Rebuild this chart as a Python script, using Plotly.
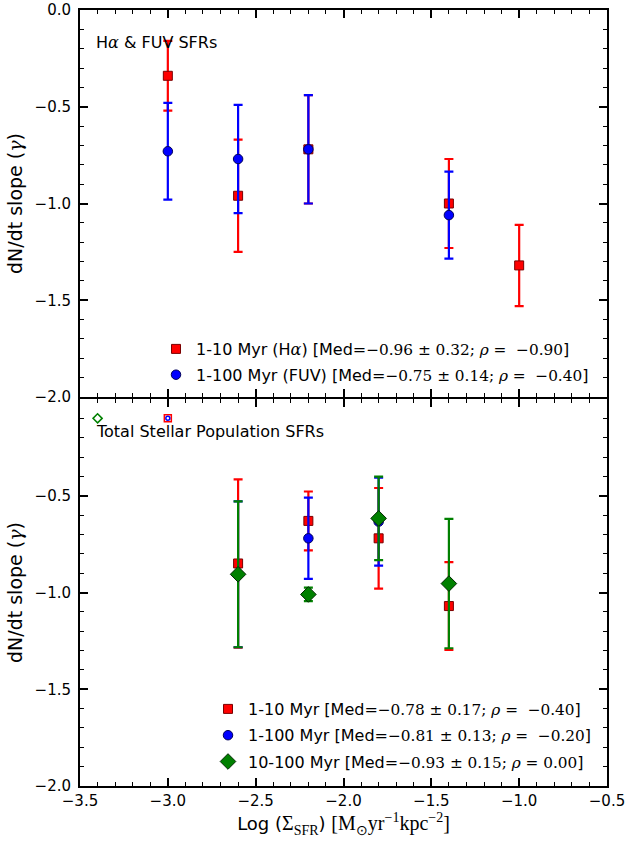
import plotly.graph_objects as go

# ---- Upper panel: H-alpha & FUV based SFRs ----
top_x_ha = [-3.0, -2.6, -2.2, -1.4, -1.0]
top_y_ha = [-0.34, -0.96, -0.72, -1.00, -1.32]
top_e_ha = [0.18, 0.29, 0.28, 0.23, 0.21]

top_x_fuv = [-3.0, -2.6, -2.2, -1.4]
top_y_fuv = [-0.73, -0.77, -0.72, -1.06]
top_e_fuv = [0.25, 0.28, 0.28, 0.225]

# ---- Lower panel: total stellar population SFRs ----
bot_x_10 = [-2.6, -2.2, -1.8, -1.4]
bot_y_10 = [-0.85, -0.63, -0.72, -1.07]
bot_e_10 = [0.435, 0.152, 0.26, 0.227]

bot_x_100 = [-2.6, -2.2, -1.8]
bot_y_100 = [-0.906, -0.72, -0.634]
bot_e_100 = [0.377, 0.21, 0.227]

bot_x_10_100 = [-2.6, -2.2, -1.8, -1.4]
bot_y_10_100 = [-0.906, -1.01, -0.617, -0.954]
bot_e_10_100 = [0.377, 0.035, 0.216, 0.334]

# open reference markers near the top of the lower panel
open_x_green = [-3.4]
open_x_redblue = [-3.0]
open_y = [-0.1]

# summary statistics shown in the legends
top_labels = ["1-10 Myr (H<span style='font-family:DejaVu Serif'><i>α</i></span>)",
              "1-100 Myr (FUV)"]
top_med = [-0.96, -0.75]
top_med_err = [0.32, 0.14]
top_rho = [-0.90, -0.40]

bot_labels = ["1-10 Myr", "1-100 Myr", "10-100 Myr"]
bot_med = [-0.78, -0.81, -0.93]
bot_med_err = [0.17, 0.13, 0.15]
bot_rho = [-0.40, -0.20, 0.00]

x_ticks = [-3.5, -3.0, -2.5, -2.0, -1.5, -1.0, -0.5]
y_ticks = [-2.0, -1.5, -1.0, -0.5, 0.0]

RED, BLUE, GREEN = "#ff0000", "#0000ff", "#008000"
SERIF = "DejaVu Serif"
SANS = "DejaVu Sans"

W, H = 626, 842
ML, MR, MT, MB = 80, 19, 10, 56
PW, PH = W - ML - MR, H - MT - MB


def num(v):
    s = f"{abs(v):.2f}"
    return ("−" + s) if v < 0 else s


def label(name, med, err, rho):
    rho_txt = f"= {num(rho)}" if rho >= 0 else f"=  {num(rho)}"
    math = (f"<span style='font-family:{SERIF};font-size:15.3px'>"
            f"{num(med)} ± {err:.2f}; <i>ρ</i> {rho_txt}</span>")
    return f"{name} [Med={math}]"


def minus(v):
    s = f"{abs(v):.1f}"
    return ("−" + s) if v < 0 else s


fig = go.Figure()


def add_series(x, y, e, color, symbol, size, edge, name, xa, ya, legend, grp):
    fig.add_trace(go.Scatter(
        x=x, y=y, mode="markers", name=name,
        xaxis=xa, yaxis=ya, legend=legend, legendgroup=grp,
        marker=dict(symbol=symbol, color=color, size=size,
                    line=dict(color=edge, width=1)),
        error_y=dict(type="data", array=e, color=color,
                     thickness=2.2, width=4.5),
    ))


add_series(top_x_ha, top_y_ha, top_e_ha, RED, "square", 9, "#7a0000",
           label(top_labels[0], top_med[0], top_med_err[0], top_rho[0]),
           "x", "y", "legend", "t1")
add_series(top_x_fuv, top_y_fuv, top_e_fuv, BLUE, "circle", 9.5, "#00005a",
           label(top_labels[1], top_med[1], top_med_err[1], top_rho[1]),
           "x", "y", "legend", "t2")

add_series(bot_x_10, bot_y_10, bot_e_10, RED, "square", 9, "#7a0000",
           label(bot_labels[0], bot_med[0], bot_med_err[0], bot_rho[0]),
           "x2", "y2", "legend2", "b1")
add_series(bot_x_100, bot_y_100, bot_e_100, BLUE, "circle", 9.5, "#00005a",
           label(bot_labels[1], bot_med[1], bot_med_err[1], bot_rho[1]),
           "x2", "y2", "legend2", "b2")
add_series(bot_x_10_100, bot_y_10_100, bot_e_10_100, GREEN, "diamond", 12,
           "#002a00",
           label(bot_labels[2], bot_med[2], bot_med_err[2], bot_rho[2]),
           "x2", "y2", "legend2", "b3")

fig.add_trace(go.Scatter(x=open_x_green, y=open_y, mode="markers",
                         xaxis="x2", yaxis="y2", showlegend=False,
                         marker=dict(symbol="diamond-open", size=7,
                                     color=GREEN, line=dict(width=1.5))))
fig.add_trace(go.Scatter(x=open_x_redblue, y=open_y, mode="markers",
                         xaxis="x2", yaxis="y2", showlegend=False,
                         marker=dict(symbol="square-open", size=7,
                                     color=RED, line=dict(width=1.5))))
fig.add_trace(go.Scatter(x=open_x_redblue, y=open_y, mode="markers",
                         xaxis="x2", yaxis="y2", showlegend=False,
                         marker=dict(symbol="circle-open", size=4,
                                     color=BLUE, line=dict(width=1.5))))

axis_common = dict(
    showline=True, linecolor="black", linewidth=2, mirror="allticks",
    ticks="inside", ticklen=8, tickwidth=1.5, tickcolor="black",
    showgrid=False, zeroline=False, automargin=False,
    tickfont=dict(family=SANS, size=15, color="black"),
    minor=dict(ticks="inside", ticklen=4, tickwidth=1, tickcolor="black",
               dtick=0.1, showgrid=False),
)

y_title = dict(text=f"dN/dt slope (<span style='font-family:{SERIF}'><i>γ</i></span>)",
               font=dict(family=SANS, size=19, color="black"), standoff=7)

# the two panels share one frame edge: nudge the domains so the lines meet
half = 1.0 / PH
x_common = dict(axis_common, range=[-3.5, -0.5], tickmode="array",
                tickvals=x_ticks, ticktext=[minus(v) for v in x_ticks])
fig.update_layout(
    xaxis=dict(x_common, anchor="y", domain=[0, 1], showticklabels=False),
    xaxis2=dict(x_common, anchor="y2", domain=[0, 1], matches="x",
                title=dict(
                    text=("Log (<span style='font-family:Liberation Serif;font-size:20px'>Σ"
                          "<sub>SFR</sub></span>) "
                          "<span style='font-family:Liberation Serif;font-size:20px'>[M<sub>⊙</sub>"
                          "yr<sup>−1</sup>kpc<sup>−2</sup>]</span>"),
                    font=dict(family=SANS, size=18, color="black"),
                    standoff=5)),
    yaxis=dict(axis_common, anchor="x", domain=[0.5 + half, 1], range=[-2, 0],
               tickmode="array", tickvals=y_ticks,
               ticktext=[minus(v) for v in y_ticks], ticklabelstandoff=4,
               title=y_title),
    yaxis2=dict(axis_common, anchor="x2", domain=[0, 0.5 - half], range=[-2, 0],
                tickmode="array", tickvals=y_ticks,
                ticktext=[minus(v) for v in y_ticks[:-1]] + [""],
                ticklabelstandoff=4, title=y_title),
    legend=dict(x=(156 - ML) / PW, y=(H - MB - 332) / PH, xanchor="left",
                yanchor="top", bgcolor="rgba(0,0,0,0)",
                font=dict(family=SANS, size=16, color="black"),
                tracegroupgap=2, traceorder="grouped"),
    legend2=dict(x=(208 - ML) / PW, y=(H - MB - 692) / PH, xanchor="left",
                 yanchor="top", bgcolor="rgba(0,0,0,0)",
                 font=dict(family=SANS, size=16, color="black"),
                 tracegroupgap=2.5, traceorder="grouped"),
    annotations=[
        dict(text=f"H<span style='font-family:{SERIF}'><i>α</i></span> &amp; FUV SFRs",
             xref="x", yref="y", x=-3.42, y=-0.17, xanchor="left",
             yanchor="middle", showarrow=False,
             font=dict(family=SANS, size=16, color="black")),
        dict(text="Total Stellar Population SFRs",
             xref="x2", yref="y2", x=-3.42, y=-0.17, xanchor="left",
             yanchor="middle", showarrow=False,
             font=dict(family=SANS, size=16, color="black")),
    ],
    width=W, height=H,
    margin=dict(l=ML, r=MR, t=MT, b=MB, autoexpand=False),
    paper_bgcolor="white", plot_bgcolor="white",
)

fig.write_html("out.html")
